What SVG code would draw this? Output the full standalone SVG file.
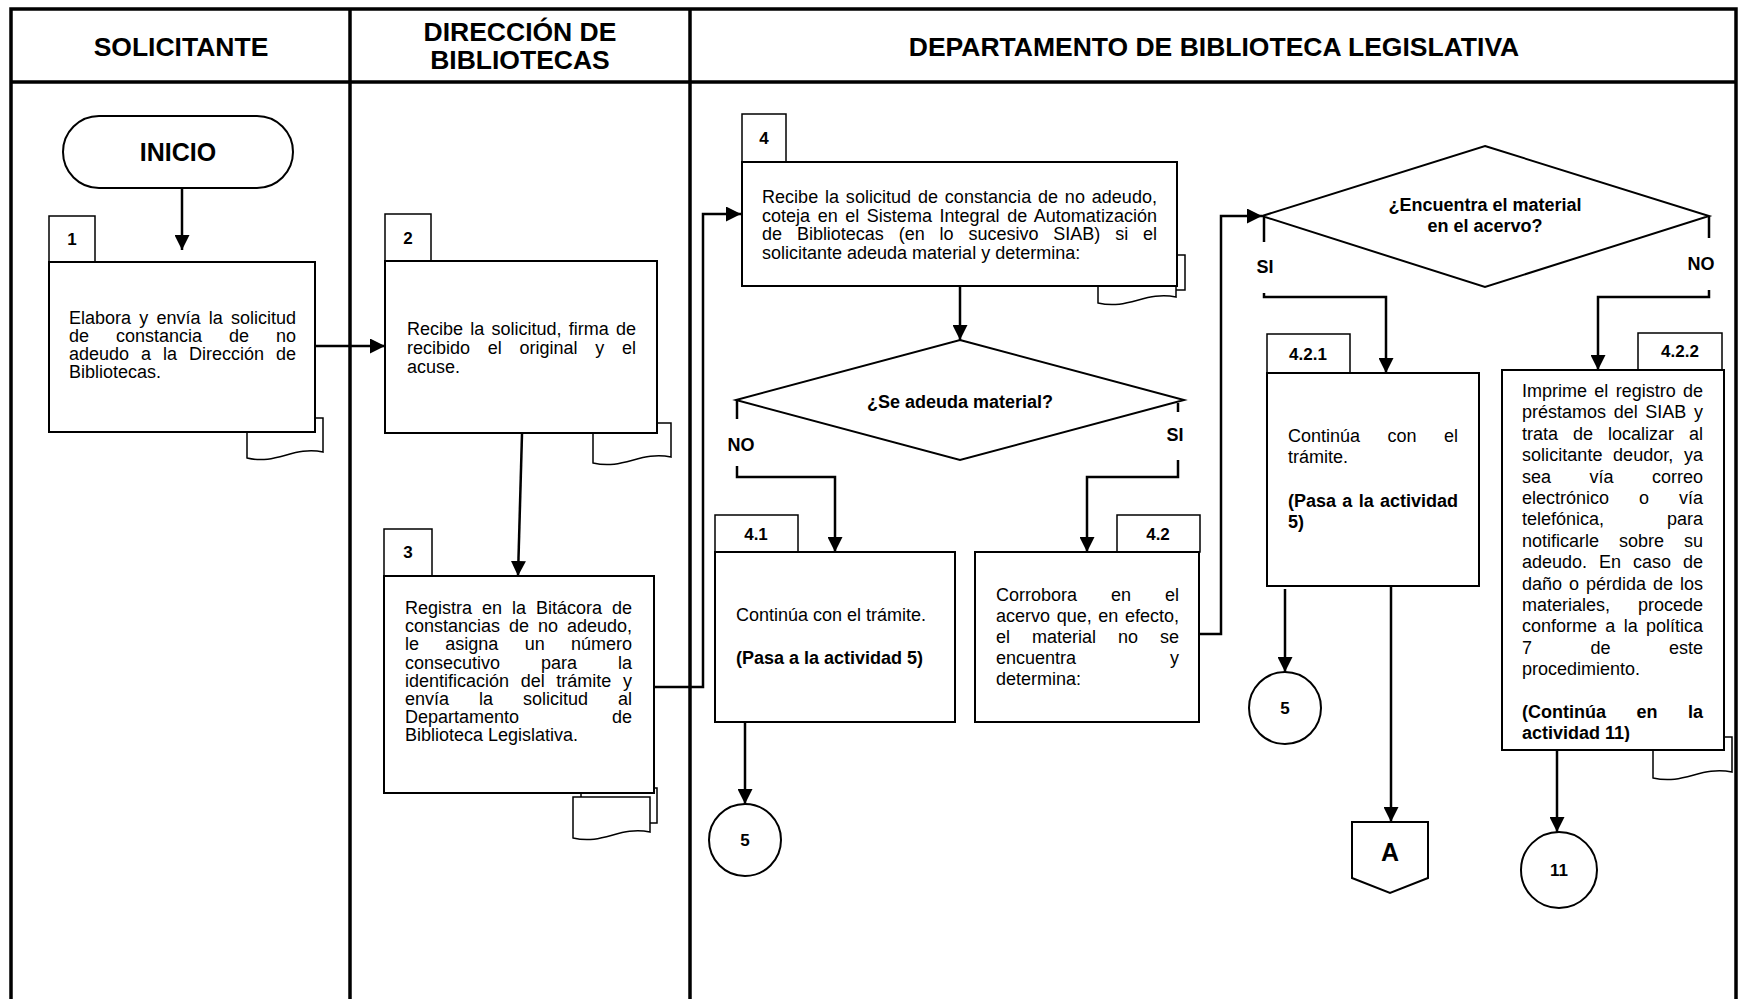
<svg xmlns="http://www.w3.org/2000/svg" width="1739" height="999" viewBox="0 0 1739 999">
<defs>
<style>
text{font-family:"Liberation Sans",Arial,Helvetica,sans-serif;fill:#000}
.t{font-size:18px}
.b{font-size:18px;font-weight:bold}
.h{font-size:26.5px;font-weight:bold}
.n{font-size:17px;font-weight:bold}
.c{text-anchor:middle}
.box{fill:#fff;stroke:#000;stroke-width:2}
.tab{fill:#fff;stroke:#000;stroke-width:1.5}
.doc{fill:#fff;stroke:#000;stroke-width:1.5}
.ln{fill:none;stroke:#000;stroke-width:2.5}
.fr{fill:none;stroke:#000;stroke-width:3.5}
</style>
<marker id="ah" markerUnits="userSpaceOnUse" markerWidth="15" markerHeight="15" refX="15" refY="7.5" orient="auto" viewBox="0 0 15 15"><path d="M0,0 L15,7.5 L0,15 z" fill="#000"/></marker>
<clipPath id="c422"><rect x="1500" y="370" width="226" height="372"/></clipPath>
</defs>
<rect width="1739" height="999" fill="#fff"/>

<g id="frame">
<rect class="fr" x="11" y="9" width="1725" height="1010"/>
<line class="fr" x1="11" y1="82" x2="1736" y2="82"/>
<line class="fr" x1="350" y1="9" x2="350" y2="1019"/>
<line class="fr" x1="690" y1="9" x2="690" y2="1019"/>
<text class="h c" x="181" y="56">SOLICITANTE</text>
<text class="h c" x="520" y="41">DIRECCIÓN DE</text>
<text class="h c" x="520" y="69">BIBLIOTECAS</text>
<text class="h c" x="1214" y="56">DEPARTAMENTO DE BIBLIOTECA LEGISLATIVA</text>
</g>

<g id="connectors">
<path class="ln" d="M182,188 V250" marker-end="url(#ah)"/>
<path class="ln" d="M315,346 H385" marker-end="url(#ah)"/>
<path class="ln" d="M522,434 L518,576" marker-end="url(#ah)"/>
<path class="ln" d="M654,687 H703 V214 H741" marker-end="url(#ah)"/>
<path class="ln" d="M960,286 V340" marker-end="url(#ah)"/>
<path class="ln" d="M737,400 V419"/>
<path class="ln" d="M737,466 V477 H835 V552" marker-end="url(#ah)"/>
<path class="ln" d="M1178,403 V412"/>
<path class="ln" d="M1178,460 V477 H1087 V552" marker-end="url(#ah)"/>
<path class="ln" d="M745,722 V804" marker-end="url(#ah)"/>
<path class="ln" d="M1199,634 H1221 V216 H1262" marker-end="url(#ah)"/>
<path class="ln" d="M1264,216 V242"/>
<path class="ln" d="M1264,293 V297 H1386 V373" marker-end="url(#ah)"/>
<path class="ln" d="M1709,216 V238"/>
<path class="ln" d="M1709,290 V297 H1598 V370" marker-end="url(#ah)"/>
<path class="ln" d="M1285,589 V672" marker-end="url(#ah)"/>
<path class="ln" d="M1391,586 V822" marker-end="url(#ah)"/>
<path class="ln" d="M1557,750 V832" marker-end="url(#ah)"/>
<text class="b c" x="741" y="451">NO</text>
<text class="b c" x="1175" y="441">SI</text>
<text class="b c" x="1265" y="273">SI</text>
<text class="b c" x="1701" y="270">NO</text>
</g>

<g id="inicio">
<rect class="box" x="63" y="116" width="230" height="72" rx="36"/>
<text class="c" x="178" y="161" style="font-size:25px;font-weight:bold">INICIO</text>
</g>

<g id="act1">
<path class="doc" d="M247,418 H323 V452 C293,446 277,465 247,458 Z"/>
<rect class="tab" x="49" y="216" width="46" height="46"/>
<text class="n c" x="72" y="245">1</text>
<rect class="box" x="49" y="262" width="266" height="170"/>
<text class="t" x="69" y="324" word-spacing="3.25" textLength="227" lengthAdjust="spacing">Elabora y envía la solicitud</text>
<text class="t" x="69" y="342" word-spacing="22" textLength="227" lengthAdjust="spacing">de constancia de no</text>
<text class="t" x="69" y="360" word-spacing="7" textLength="227" lengthAdjust="spacing">adeudo a la Dirección de</text>
<text class="t" x="69" y="378">Bibliotecas.</text>
</g>

<g id="act2">
<path class="doc" d="M593,423 H671 V457 C640,451 624,470 593,463 Z"/>
<rect class="tab" x="385" y="214" width="46" height="47"/>
<text class="n c" x="408" y="244">2</text>
<rect class="box" x="385" y="261" width="272" height="172"/>
<text class="t" x="407" y="335" word-spacing="2.25" textLength="229" lengthAdjust="spacing">Recibe la solicitud, firma de</text>
<text class="t" x="407" y="354" word-spacing="12.75" textLength="229" lengthAdjust="spacing">recibido el original y el</text>
<text class="t" x="407" y="373">acuse.</text>
</g>

<g id="act3">
<rect class="doc" x="581" y="788" width="76" height="35"/>
<path class="doc" d="M573,797 H650 V832 C619,826 604,845 573,838 Z"/>
<rect class="tab" x="384" y="529" width="48" height="47"/>
<text class="n c" x="408" y="558">3</text>
<rect class="box" x="384" y="576" width="270" height="217"/>
<text class="t" x="405" y="614" word-spacing="5" textLength="227" lengthAdjust="spacing">Registra en la Bitácora de</text>
<text class="t" x="405" y="632.2" word-spacing="4" textLength="227" lengthAdjust="spacing">constancias de no adeudo,</text>
<text class="t" x="405" y="650.4" word-spacing="21.3" textLength="227" lengthAdjust="spacing">le asigna un número</text>
<text class="t" x="405" y="668.6" word-spacing="36" textLength="227" lengthAdjust="spacing">consecutivo para la</text>
<text class="t" x="405" y="686.8" word-spacing="6.7" textLength="227" lengthAdjust="spacing">identificación del trámite y</text>
<text class="t" x="405" y="705" word-spacing="25" textLength="227" lengthAdjust="spacing">envía la solicitud al</text>
<text class="t" x="405" y="723.2" word-spacing="88" textLength="227" lengthAdjust="spacing">Departamento de</text>
<text class="t" x="405" y="741.4">Biblioteca Legislativa.</text>
</g>

<g id="act4">
<rect class="doc" x="1106" y="255" width="79" height="35"/>
<path class="doc" d="M1098,262 H1176 V297 C1145,291 1129,310 1098,303 Z"/>
<rect class="tab" x="742" y="114" width="44" height="48"/>
<text class="n c" x="764" y="144">4</text>
<rect class="box" x="742" y="162" width="435" height="124"/>
<text class="t" x="762" y="203" word-spacing="1.75" textLength="395" lengthAdjust="spacing">Recibe la solicitud de constancia de no adeudo,</text>
<text class="t" x="762" y="221.5" word-spacing="2.5" textLength="395" lengthAdjust="spacing">coteja en el Sistema Integral de Automatización</text>
<text class="t" x="762" y="240" word-spacing="9.9" textLength="395" lengthAdjust="spacing">de Bibliotecas (en lo sucesivo SIAB) si el</text>
<text class="t" x="762" y="258.5">solicitante adeuda material y determina:</text>
</g>

<g id="dec1">
<polygon class="box" points="960,340 1184,400 960,460 736,400"/>
<text class="b c" x="960" y="408">¿Se adeuda material?</text>
</g>

<g id="act4-1">
<rect class="tab" x="715" y="515" width="83" height="37"/>
<text class="n c" x="756" y="540">4.1</text>
<rect class="box" x="715" y="552" width="240" height="170"/>
<text class="t" x="736" y="621">Continúa con el trámite.</text>
<text class="b" x="736" y="664">(Pasa a la actividad 5)</text>
</g>

<g id="act4-2">
<rect class="tab" x="1117" y="515" width="83" height="37"/>
<text class="n c" x="1158" y="540">4.2</text>
<rect class="box" x="975" y="552" width="224" height="170"/>
<text class="t" x="996" y="601" word-spacing="29" textLength="183" lengthAdjust="spacing">Corrobora en el</text>
<text class="t" x="996" y="622" word-spacing="1.7" textLength="183" lengthAdjust="spacing">acervo que, en efecto,</text>
<text class="t" x="996" y="643" word-spacing="17" textLength="183" lengthAdjust="spacing">el material no se</text>
<text class="t" x="996" y="664" word-spacing="89" textLength="183" lengthAdjust="spacing">encuentra y</text>
<text class="t" x="996" y="685">determina:</text>
</g>

<g id="con5a">
<circle class="box" cx="745" cy="840" r="36"/>
<text class="n c" x="745" y="846">5</text>
</g>

<g id="dec2">
<polygon class="box" points="1485,146 1709,216 1485,287 1262,216"/>
<text class="b c" x="1485" y="211">¿Encuentra el material</text>
<text class="b c" x="1485" y="232">en el acervo?</text>
</g>

<g id="act4-2-1">
<rect class="tab" x="1267" y="334" width="83" height="39"/>
<text class="n c" x="1308" y="360">4.2.1</text>
<rect class="box" x="1267" y="373" width="212" height="213"/>
<text class="t" x="1288" y="442" word-spacing="22.5" textLength="170" lengthAdjust="spacing">Continúa con el</text>
<text class="t" x="1288" y="463">trámite.</text>
<text class="b" x="1288" y="507" word-spacing="1.3" textLength="170" lengthAdjust="spacing">(Pasa a la actividad</text>
<text class="b" x="1288" y="528">5)</text>
</g>

<g id="con5b">
<circle class="box" cx="1285" cy="708" r="36"/>
<text class="n c" x="1285" y="714">5</text>
</g>

<g id="offA">
<polygon class="box" points="1352,822 1428,822 1428,878 1390,893 1352,878"/>
<text class="c" x="1390" y="861" style="font-size:25px;font-weight:bold">A</text>
</g>

<g id="act4-2-2">
<path class="doc" d="M1653,737 H1732 V772 C1700,766 1685,785 1653,778 Z"/>
<rect class="tab" x="1638" y="333" width="84" height="37"/>
<text class="n c" x="1680" y="357">4.2.2</text>
<rect class="box" x="1502" y="370" width="222" height="380"/>
<g clip-path="url(#c422)">
<text class="t" x="1522" y="397" word-spacing="2.3" textLength="181" lengthAdjust="spacing">Imprime el registro de</text>
<text class="t" x="1522" y="418.4" word-spacing="2.7" textLength="181" lengthAdjust="spacing">préstamos del SIAB y</text>
<text class="t" x="1522" y="439.8" word-spacing="10" textLength="181" lengthAdjust="spacing">trata de localizar al</text>
<text class="t" x="1522" y="461.2" word-spacing="5.5" textLength="181" lengthAdjust="spacing">solicitante deudor, ya</text>
<text class="t" x="1522" y="482.6" word-spacing="33.5" textLength="181" lengthAdjust="spacing">sea vía correo</text>
<text class="t" x="1522" y="504" word-spacing="25" textLength="181" lengthAdjust="spacing">electrónico o vía</text>
<text class="t" x="1522" y="525.4" word-spacing="58" textLength="181" lengthAdjust="spacing">telefónica, para</text>
<text class="t" x="1522" y="546.8" word-spacing="15" textLength="181" lengthAdjust="spacing">notificarle sobre su</text>
<text class="t" x="1522" y="568.2" word-spacing="7" textLength="181" lengthAdjust="spacing">adeudo. En caso de</text>
<text class="t" x="1522" y="589.6" word-spacing="2" textLength="181" lengthAdjust="spacing">daño o pérdida de los</text>
<text class="t" x="1522" y="611" word-spacing="23" textLength="181" lengthAdjust="spacing">materiales, procede</text>
<text class="t" x="1522" y="632.4" word-spacing="3.3" textLength="181" lengthAdjust="spacing">conforme a la política</text>
<text class="t" x="1522" y="653.8" word-spacing="53.5" textLength="181" lengthAdjust="spacing">7 de este</text>
<text class="t" x="1522" y="675.2">procedimiento.</text>
<text class="b" x="1522" y="718" word-spacing="25.5" textLength="181" lengthAdjust="spacing">(Continúa en la</text>
<text class="b" x="1522" y="739.4">actividad 11)</text>
</g>
</g>

<g id="con11">
<circle class="box" cx="1559" cy="870" r="38"/>
<text class="n c" x="1559" y="876">11</text>
</g>
</svg>
